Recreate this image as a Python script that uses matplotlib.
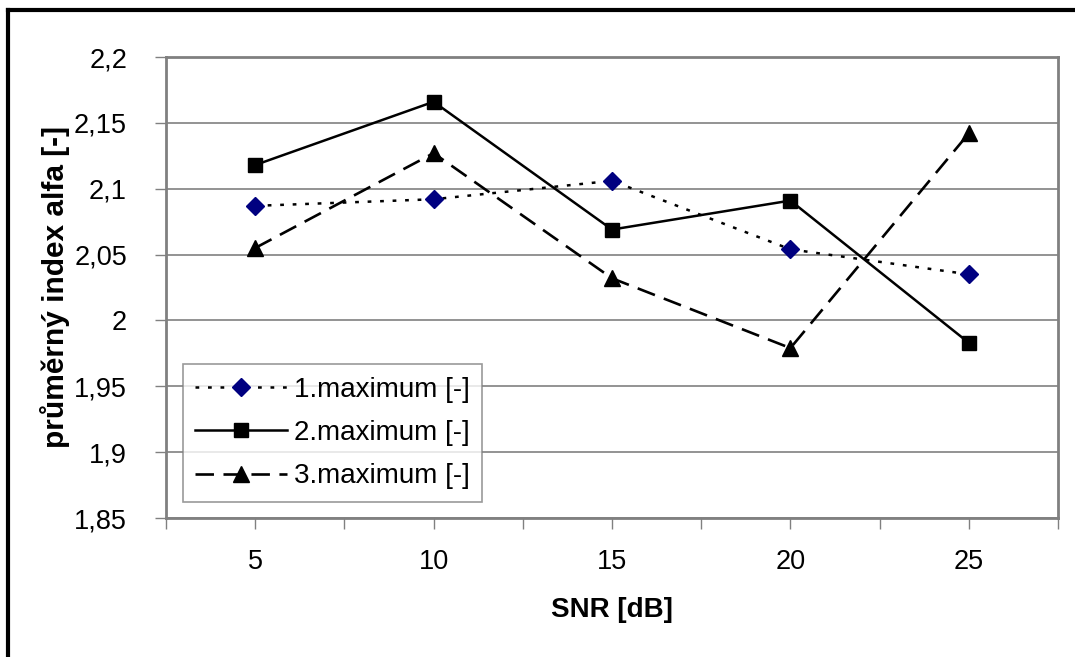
import matplotlib
matplotlib.use('Agg')
import matplotlib.pyplot as plt
from matplotlib.ticker import FixedLocator, FuncFormatter
from matplotlib.lines import Line2D

# data
snr = ['5', '10', '15', '20', '25']
max1 = [2.087, 2.092, 2.106, 2.054, 2.035]
max2 = [2.118, 2.166, 2.069, 2.091, 1.983]
max3 = [2.055, 2.127, 2.032, 1.979, 2.142]
labels = ['1.maximum [-]', '2.maximum [-]', '3.maximum [-]']
yticks = [1.85, 1.9, 1.95, 2.0, 2.05, 2.1, 2.15, 2.2]

plt.rcParams['font.family'] = ['Liberation Sans', 'DejaVu Sans']

fig = plt.figure(figsize=(10.75, 6.57), dpi=100)
ax = fig.add_axes([166/1075, 1-518/657, (1058-166)/1075, (518-57)/657])

x = list(range(len(snr)))
ax.plot(x, max1, linestyle=(0, (1.5, 3.5)), color='black', lw=1.8,
        marker='D', ms=9.5, mfc='#000080', mec='#000080', label=labels[0])
ax.plot(x, max2, linestyle='-', color='black', lw=1.8,
        marker='s', ms=10, mfc='black', mec='black', label=labels[1])
ax.plot(x, max3, linestyle=(0, (7, 3.6)), color='black', lw=1.9,
        marker='^', ms=12, mfc='black', mec='black', label=labels[2])

ax.set_xlim(-0.5, len(snr) - 0.5)
ax.set_ylim(1.85, 2.2)
ax.set_yticks(yticks)
ax.yaxis.set_major_formatter(FuncFormatter(lambda v, p: ('%g' % round(v, 2)).replace('.', ',')))
ax.set_xticks(x)
ax.set_xticklabels(snr)
ax.xaxis.set_minor_locator(FixedLocator([i - 0.5 for i in range(len(snr) + 1)]))

ax.grid(axis='y', color='#808080', lw=1.2)
ax.set_axisbelow(True)
for s in ax.spines.values():
    s.set_color('#808080')
    s.set_linewidth(2)

ax.tick_params(axis='both', which='both', direction='out', color='#808080', width=1, length=8)
ax.tick_params(axis='y', labelsize=19.5, pad=20)
ax.tick_params(axis='x', labelsize=19.5, pad=14)

ax.set_xlabel('SNR [dB]', fontsize=20, fontweight='bold', labelpad=16)
ax.set_ylabel('průměrný index alfa [-]', fontsize=21.5, fontweight='bold', labelpad=3)

leg = ax.legend(loc='lower left', bbox_to_anchor=(0.019, 0.035), fontsize=20,
                frameon=True, fancybox=False, handlelength=3.3, handletextpad=0.25,
                borderpad=0.45, labelspacing=0.62, borderaxespad=0)
leg.get_frame().set_edgecolor('#808080')
leg.get_frame().set_linewidth(1.2)

# outer frame: only top and left edges visible
fig.add_artist(Line2D([8/1075, 1], [1-10/657, 1-10/657], color='black', lw=3, transform=fig.transFigure))
fig.add_artist(Line2D([8/1075, 8/1075], [0, 1-10/657], color='black', lw=3, transform=fig.transFigure))

fig.savefig('out.png', dpi=100)
